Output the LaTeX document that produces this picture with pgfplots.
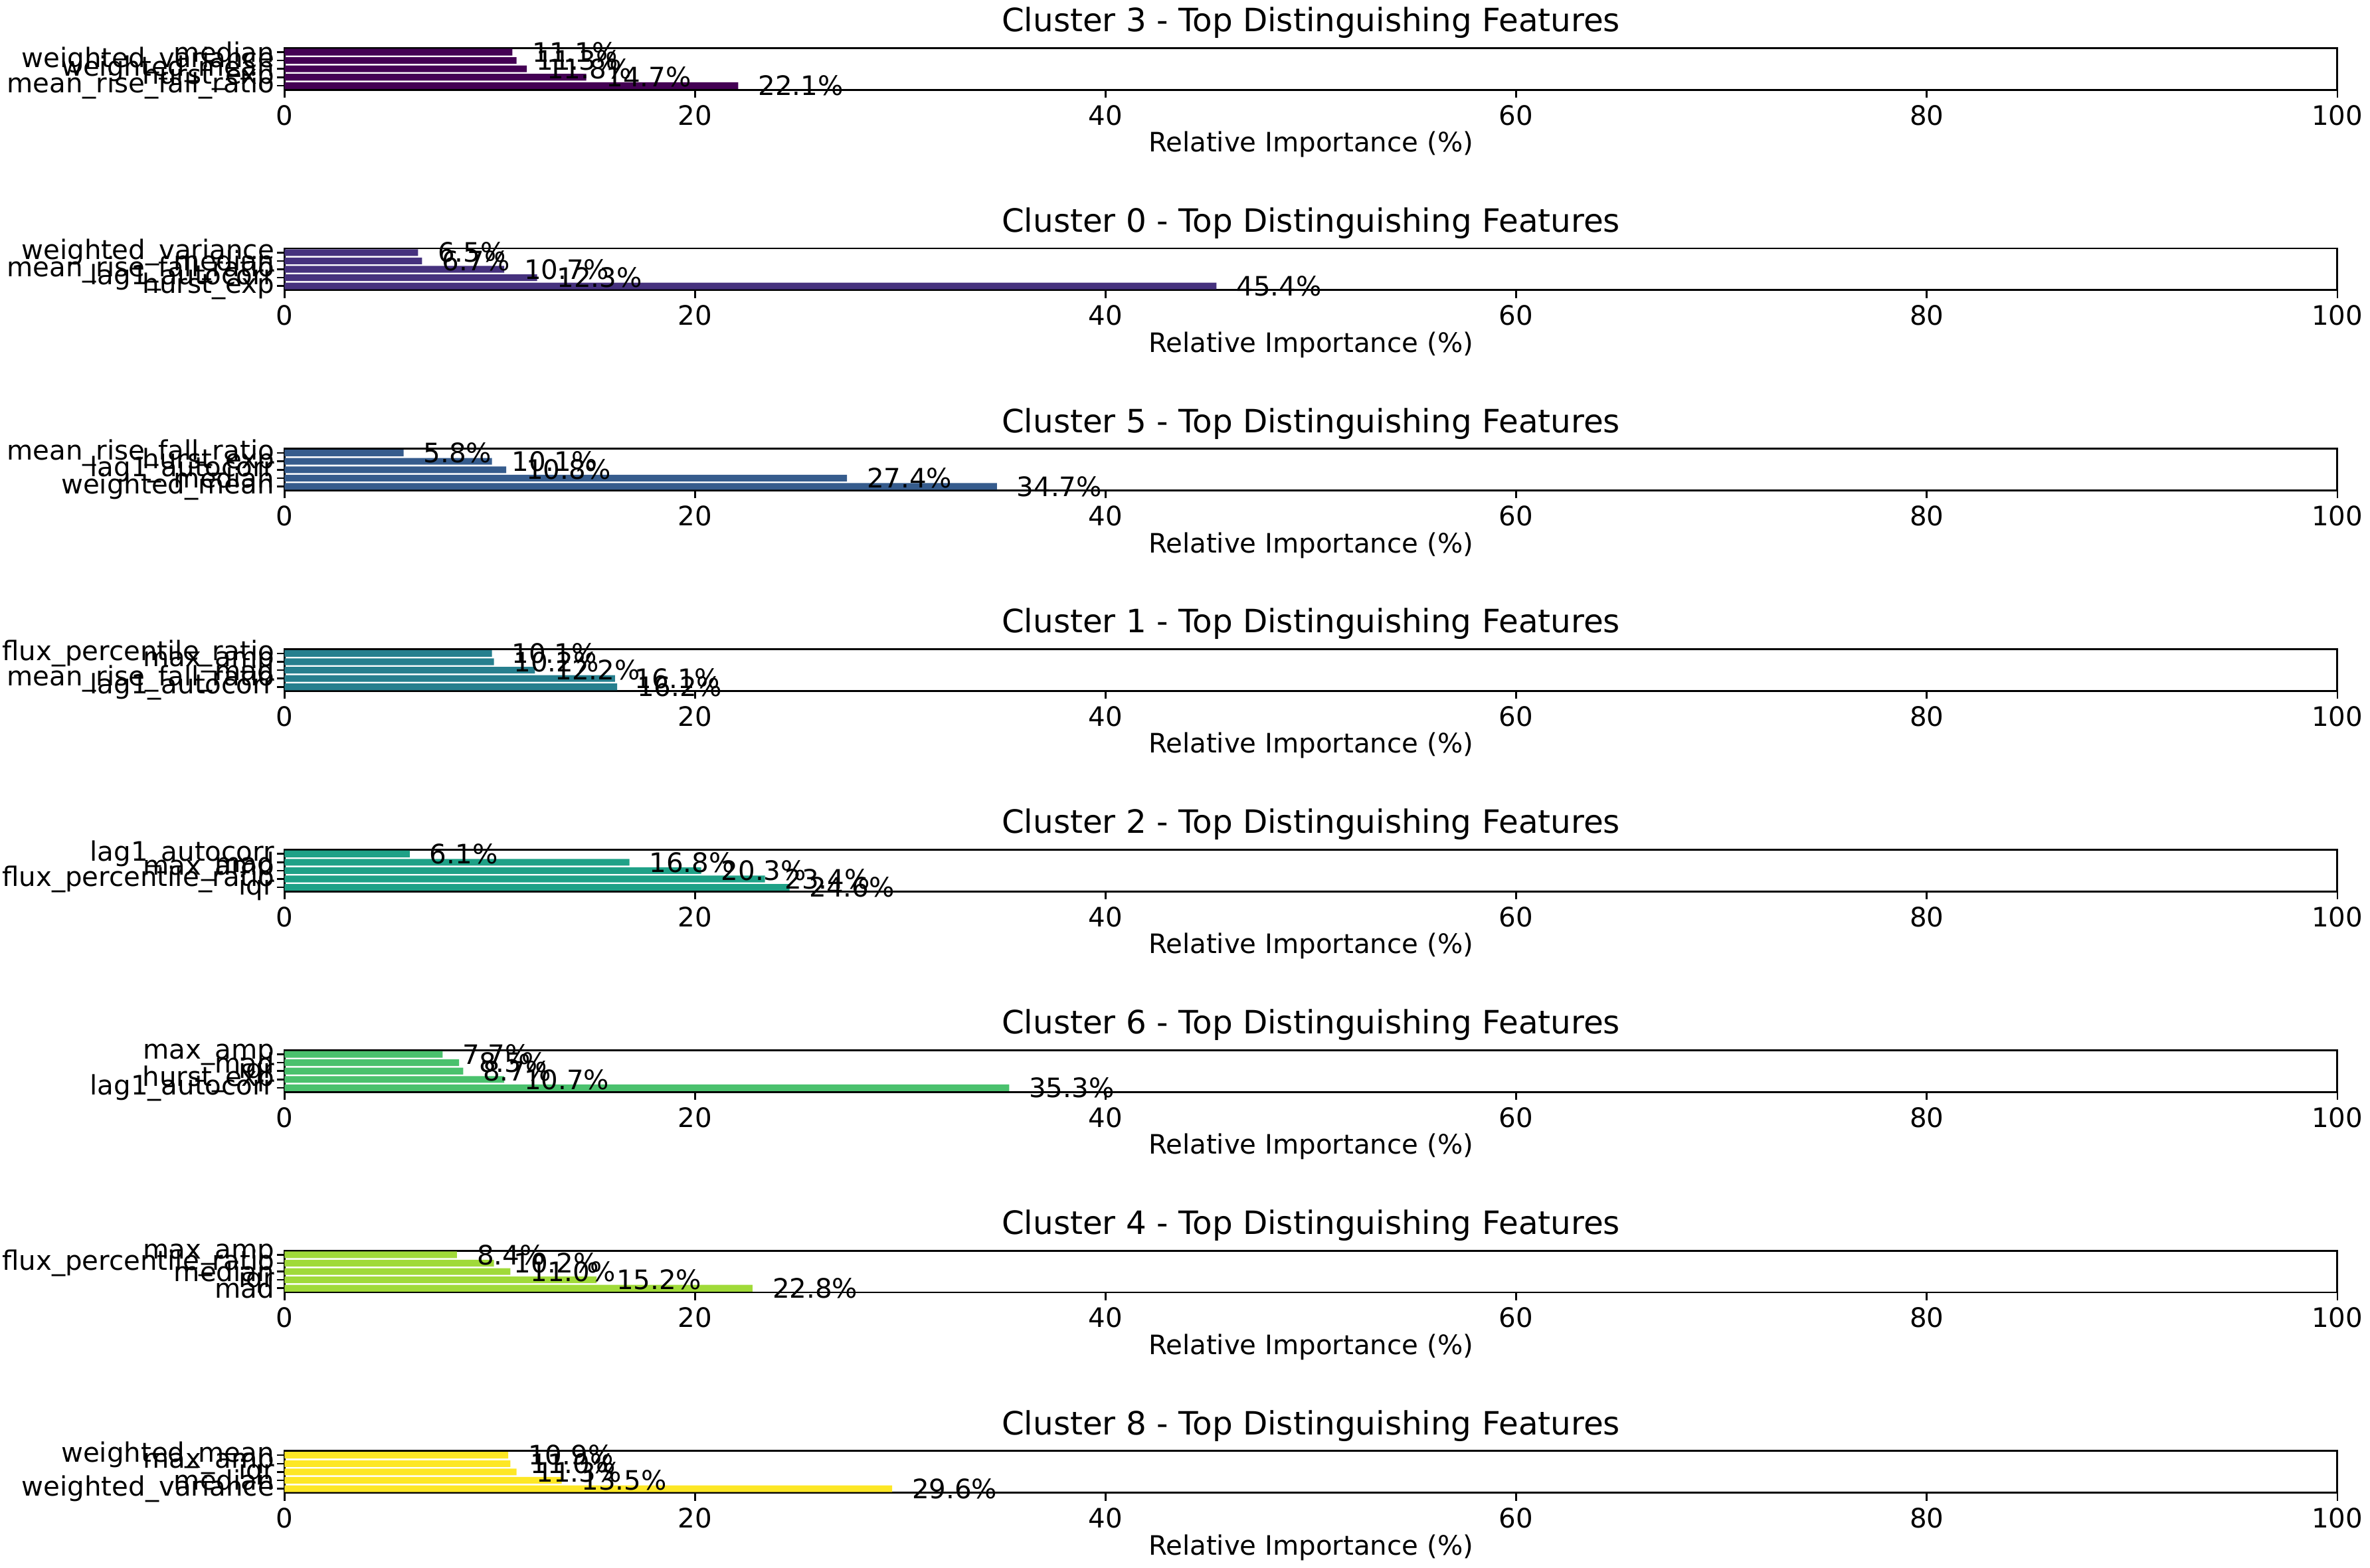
\documentclass[border=0pt]{standalone}
\usepackage{pgfplots}
\pgfplotsset{compat=1.18}
\usepackage{fontspec}
\setmainfont{DejaVu Sans}
\definecolor{c3}{HTML}{440154}
\definecolor{c0}{HTML}{46327E}
\definecolor{c5}{HTML}{365C8D}
\definecolor{c1}{HTML}{277F8E}
\definecolor{c2}{HTML}{1FA187}
\definecolor{c6}{HTML}{4AC16D}
\definecolor{c4}{HTML}{A0DA39}
\definecolor{c8}{HTML}{FDE725}
\pgfplotsset{panel/.style={
  width=13.26in, height=0.27in, scale only axis,
  xmin=0, xmax=100, ymin=-0.5, ymax=4.5,
  xbar, bar width=0.8, bar shift=0pt,
  xtick={0,20,40,60,80,100}, ytick={0,1,2,3,4},
  tick align=outside, xtick pos=bottom, ytick pos=left,
  major tick length=0.05in,
  axis line style={black, line width=0.9pt},
  every tick/.style={black, line width=0.8pt},
  tick label style={font=\fontsize{12.5}{12.5}\selectfont},
  /pgf/number format/assume math mode=true,
  xlabel={Relative Importance (\%)},
  xlabel style={font=\fontsize{12.5}{12.5}\selectfont, yshift=4pt},
  title style={font=\fontsize{15}{15}\selectfont, yshift=-5pt},
  nodes near coords={\pgfmathprintnumber[fixed,precision=1,fixed zerofill]{\pgfplotspointmeta}\%},
  nodes near coords style={anchor=west, xshift=0.08in, font=\fontsize{12.5}{12.5}\selectfont, black},
  every axis plot/.append style={draw=none},
}}
\newcommand{\panel}[5]{%
\begin{axis}[panel, at={(0,-#1*1.295in)}, title={Cluster #2 - Top Distinguishing Features},
  yticklabels={#4}, yticklabel style={font=\fontsize{12.5}{12.5}\selectfont, inner sep=1pt}]
\addplot[fill=#3] coordinates {#5};
\end{axis}}
\begin{document}
\begin{tikzpicture}
\panel{0}{3}{c3}{mean\_rise\_fall\_ratio,hurst\_exp,weighted\_mean,weighted\_variance,median}{(22.1,0) (14.7,1) (11.8,2) (11.3,3) (11.1,4)}
\panel{1}{0}{c0}{hurst\_exp,lag1\_autocorr,mean\_rise\_fall\_ratio,median,weighted\_variance}{(45.4,0) (12.3,1) (10.7,2) (6.7,3) (6.5,4)}
\panel{2}{5}{c5}{weighted\_mean,median,lag1\_autocorr,hurst\_exp,mean\_rise\_fall\_ratio}{(34.7,0) (27.4,1) (10.8,2) (10.1,3) (5.8,4)}
\panel{3}{1}{c1}{lag1\_autocorr,mean\_rise\_fall\_ratio,mad,max\_amp,flux\_percentile\_ratio}{(16.2,0) (16.1,1) (12.2,2) (10.2,3) (10.1,4)}
\panel{4}{2}{c2}{iqr,flux\_percentile\_ratio,max\_amp,mad,lag1\_autocorr}{(24.6,0) (23.4,1) (20.3,2) (16.8,3) (6.1,4)}
\panel{5}{6}{c6}{lag1\_autocorr,hurst\_exp,iqr,mad,max\_amp}{(35.3,0) (10.7,1) (8.7,2) (8.5,3) (7.7,4)}
\panel{6}{4}{c4}{mad,iqr,median,flux\_percentile\_ratio,max\_amp}{(22.8,0) (15.2,1) (11.0,2) (10.2,3) (8.4,4)}
\panel{7}{8}{c8}{weighted\_variance,median,iqr,max\_amp,weighted\_mean}{(29.6,0) (13.5,1) (11.3,2) (11.0,3) (10.9,4)}
\end{tikzpicture}
\end{document}
